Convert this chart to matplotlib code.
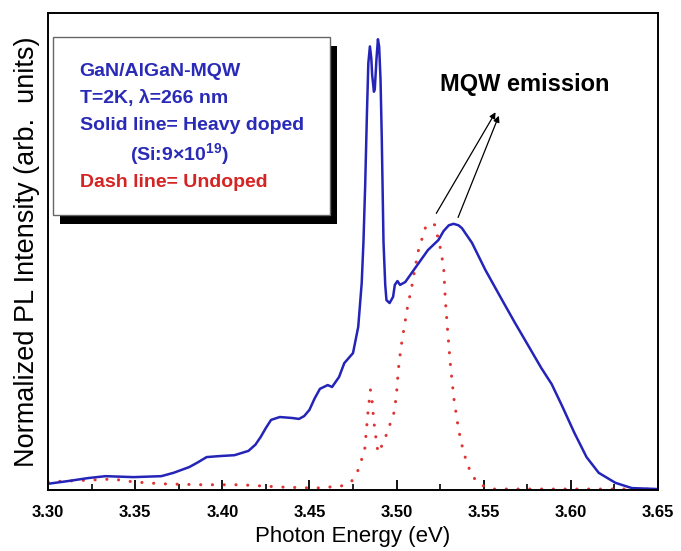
import numpy as np
import matplotlib.pyplot as plt
from matplotlib.patches import Rectangle
from matplotlib.ticker import MultipleLocator

plt.rcParams['font.family'] = ['Liberation Sans', 'DejaVu Sans']
plt.rcParams['mathtext.fontset'] = 'custom'
plt.rcParams['mathtext.rm'] = 'Liberation Sans'
plt.rcParams['mathtext.bf'] = 'Liberation Sans:bold'

# heavy doped (solid, blue)
doped_e = [3.300, 3.312, 3.323, 3.333, 3.341, 3.349, 3.365, 3.372, 3.381, 3.386,
           3.391, 3.398, 3.407, 3.415, 3.419, 3.422, 3.425, 3.428, 3.433, 3.440,
           3.444, 3.447, 3.450, 3.453, 3.456, 3.4605, 3.463, 3.467, 3.470, 3.475,
           3.478, 3.480, 3.481, 3.482, 3.483, 3.4838, 3.4847, 3.4855, 3.486, 3.487,
           3.4875, 3.4885, 3.4893, 3.4900, 3.4908, 3.4915, 3.4925, 3.4935, 3.4942, 3.496,
           3.498, 3.499, 3.5005, 3.502, 3.505, 3.5106, 3.518, 3.524, 3.527, 3.530,
           3.5327, 3.5355, 3.5375, 3.5433, 3.551, 3.5606, 3.568, 3.576, 3.583, 3.589,
           3.595, 3.602, 3.609, 3.616, 3.6256, 3.635, 3.650]
doped_i = [0.013, 0.019, 0.025, 0.029, 0.028, 0.027, 0.029, 0.036, 0.048, 0.058,
           0.069, 0.071, 0.073, 0.082, 0.095, 0.111, 0.130, 0.147, 0.153, 0.151,
           0.149, 0.155, 0.168, 0.192, 0.212, 0.220, 0.216, 0.237, 0.266, 0.287,
           0.342, 0.434, 0.520, 0.640, 0.790, 0.895, 0.930, 0.905, 0.870, 0.835,
           0.840, 0.905, 0.945, 0.930, 0.860, 0.740, 0.520, 0.430, 0.398, 0.392,
           0.405, 0.430, 0.438, 0.430, 0.436, 0.465, 0.503, 0.524, 0.543, 0.555,
           0.558, 0.555, 0.549, 0.518, 0.461, 0.398, 0.350, 0.300, 0.256, 0.222,
           0.176, 0.120, 0.069, 0.036, 0.015, 0.004, 0.002]

# undoped (dotted, red)
undoped_e = [3.300, 3.3256, 3.337, 3.349, 3.365, 3.388, 3.410, 3.435, 3.4535, 3.468,
             3.474, 3.478, 3.4817, 3.4827, 3.4837, 3.485, 3.486, 3.487, 3.4885, 3.4894,
             3.4917, 3.4946, 3.4967, 3.4987, 3.500, 3.501, 3.5025, 3.5044, 3.5063, 3.5087,
             3.5106, 3.5129, 3.5154, 3.517, 3.522, 3.525, 3.527, 3.528, 3.5294, 3.531,
             3.533, 3.5356, 3.5385, 3.543, 3.548, 3.555, 3.650]
undoped_i = [0.017, 0.021, 0.023, 0.017, 0.013, 0.011, 0.011, 0.006, 0.004, 0.008,
             0.017, 0.042, 0.084, 0.126, 0.168, 0.210, 0.185, 0.143, 0.099, 0.078,
             0.094, 0.120, 0.143, 0.164, 0.203, 0.252, 0.298, 0.342, 0.384, 0.426,
             0.465, 0.509, 0.535, 0.556, 0.556, 0.509, 0.468, 0.398, 0.329, 0.258,
             0.189, 0.126, 0.078, 0.031, 0.011, 0.002, 0.002]

xticks = [3.30, 3.35, 3.40, 3.45, 3.50, 3.55, 3.60, 3.65]

fig = plt.figure(figsize=(6.81, 5.51), dpi=100)
ax = fig.add_axes([0.0705, 0.1107, 0.8957, 0.8657])

ax.plot(undoped_e, undoped_i, color='#e03535', lw=2.2, dashes=(0.05, 3.8),
        dash_capstyle='round')
ax.plot(doped_e, doped_i, color='#2424b8', lw=1.8, solid_joinstyle='round')

ax.set_xlim(3.30, 3.65)
ax.set_ylim(0, 1)
ax.set_xticks(xticks)
ax.set_xticklabels([f'{t:.2f}' for t in xticks])
ax.xaxis.set_minor_locator(MultipleLocator(0.025))
ax.tick_params(axis='x', which='major', direction='in', length=7, width=1.3,
               labelsize=12, pad=11)
ax.tick_params(axis='x', which='minor', direction='in', length=4, width=1.2)
for lab in ax.get_xticklabels():
    lab.set_fontweight('bold')
ax.set_yticks([])
for s in ax.spines.values():
    s.set_linewidth(1.4)

ax.set_xlabel('Photon Energy (eV)', fontsize=16, labelpad=4)
ax.set_ylabel('Normalized PL Intensity (arb.  units)', fontsize=19.5, labelpad=6)

# legend box with shadow
ax.add_patch(Rectangle((0.019, 0.558), 0.454, 0.372, transform=ax.transAxes,
                       facecolor='black', edgecolor='none', zorder=4))
ax.add_patch(Rectangle((0.008, 0.577), 0.454, 0.372, transform=ax.transAxes,
                       facecolor='white', edgecolor='#666666', lw=1.0, zorder=5))
txt = dict(transform=ax.transAxes, fontsize=14, fontweight='bold', va='center',
           zorder=6)
ax.text(0.052, 0.877, 'GaN/AlGaN-MQW', color='#2a2ab8', **txt)
ax.text(0.052, 0.820, 'T=2K, λ=266 nm', color='#2a2ab8', **txt)
ax.text(0.052, 0.764, 'Solid line= Heavy doped', color='#2a2ab8', **txt)
ax.text(0.135, 0.703, r'(Si:9×10$^{\mathbf{19}}$)', color='#2a2ab8', **txt)
ax.text(0.052, 0.644, 'Dash line= Undoped', color='#d42424', **txt)

ax.text(3.5737, 0.851, 'MQW emission', fontsize=17, fontweight='bold',
        ha='center', va='center')
arrow = dict(arrowstyle='-|>', color='black', lw=0.9, mutation_scale=9)
ax.annotate('', xy=(3.5576, 0.797), xytext=(3.522, 0.575), arrowprops=arrow)
ax.annotate('', xy=(3.5593, 0.790), xytext=(3.5347, 0.566), arrowprops=arrow)

fig.savefig('out.png', dpi=100)
